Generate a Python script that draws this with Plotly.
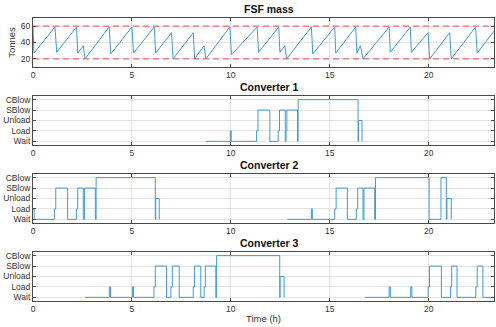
import plotly.graph_objects as go
from plotly.subplots import make_subplots

# ---------------- data ----------------
fsf_t = [0, 0.05, 1.11, 1.2, 2.2, 2.26, 2.54, 2.63, 3.85, 3.93, 5.0, 5.08, 6.13, 6.2,
         7.0, 7.08, 8.1, 8.17, 8.64, 8.74, 9.95, 10.03, 11.33, 11.4, 12.42, 12.48,
         12.73, 12.82, 14.07, 14.14, 15.25, 15.3, 16.31, 16.37, 16.55, 16.68, 18.0,
         18.06, 19.07, 19.12, 19.97, 20.05, 21.06, 21.14, 22.37, 22.45, 23.3]
fsf_m = [59, 27, 59, 28, 59, 27, 36, 20, 59, 26, 59, 27, 59, 27,
         52, 20, 52, 20, 36, 20, 59, 25, 59, 28, 59, 28,
         36, 20, 59, 26, 59, 27, 59, 27, 36, 20, 59,
         28, 59, 28, 52, 20, 52, 20, 59, 27, 54]
fsf_limits = [20, 60]

states = ["Wait", "Load", "Unload", "SBlow", "CBlow"]

conv1_t = [8.74, 9.97, 10.02, 11.3, 11.37, 11.97, 12.39, 12.46, 12.75, 12.79, 12.83,
           13.37, 13.4, 16.43, 16.45, 16.63]
conv1_s = ["Wait", "Load", "Wait", "Load", "SBlow", "Wait", "Load", "SBlow", "Wait", "Load", "SBlow",
           "Wait", "CBlow", "Wait", "Unload", "Wait"]

conv2_t = [0, 0.06, 1.08, 1.15, 1.75, 2.19, 2.26, 2.54, 2.6, 3.15, 3.19, 6.18, 6.2, 6.38, None,
           12.85, 14.07, 14.12, 15.25, 15.32, 15.89, 16.34, 16.41, 16.68, 16.73, 17.27, 17.31,
           20.02, 20.62, 20.89, 20.92, 21.14]
conv2_s = ["Load", "Wait", "Load", "SBlow", "Wait", "Load", "SBlow", "Wait", "SBlow", "Wait", "CBlow",
           "Wait", "Unload", "Wait", None,
           "Wait", "Load", "Wait", "Load", "SBlow", "Wait", "Load", "SBlow", "Wait", "SBlow", "Wait", "CBlow",
           "Wait", "CBlow", "Wait", "Unload", "Wait"]

conv3_t = [2.63, 3.86, 3.92, 5.02, 5.08, 6.11, 6.18, 6.75, 6.97, 7.04, 7.39, 8.1, 8.16, 8.48,
           8.65, 8.71, 9.24, 9.28, 12.47, 12.49, 12.69, None,
           16.77, 18.0, 18.06, 19.09, 19.15, 19.97, 20.04, 20.64, 21.1, 21.16, 21.43, 22.38,
           22.45, 22.74, 23.3]
conv3_s = ["Wait", "Load", "Wait", "Load", "Wait", "Load", "SBlow", "Wait", "Load", "SBlow", "Wait",
           "Load", "SBlow", "Wait", "Load", "SBlow", "Wait", "CBlow", "Wait", "Unload", "Wait", None,
           "Wait", "Load", "Wait", "Load", "Wait", "Load", "SBlow", "Wait", "Load", "SBlow", "Wait",
           "Load", "SBlow", "Wait", "Wait"]

titles = ["FSF mass", "Converter 1", "Converter 2", "Converter 3"]
x_ticks = [0, 5, 10, 15, 20]
x_max = 23.3

# ---------------- figure ----------------
W, H = 496, 327
ml, mr, mt, mb = 33, 2, 18, 26
fig = make_subplots(rows=4, cols=1)

line_col = "#4199d6"
fig.add_trace(go.Scatter(x=fsf_t, y=fsf_m, mode="lines",
                         line=dict(color=line_col, width=1)), row=1, col=1)
for lim in fsf_limits:
    fig.add_trace(go.Scatter(x=[0, x_max], y=[lim, lim], mode="lines",
                             line=dict(color="#f26b6b", width=1.3, dash="6px,4px")),
                  row=1, col=1)
for i, (tt, ss) in enumerate([(conv1_t, conv1_s), (conv2_t, conv2_s), (conv3_t, conv3_s)]):
    fig.add_trace(go.Scatter(x=tt, y=ss, mode="lines", line_shape="hv",
                             line=dict(color=line_col, width=1), connectgaps=False),
                  row=i + 2, col=1)

ph = H - mt - mb
panels_px = [(18, 67), (96, 145), (174, 223), (252, 301)]
font = "Liberation Sans, Arial, sans-serif"
axcol = "#4a4a4a"
txtcol = "#333333"

common = dict(showline=True, linecolor=axcol, linewidth=1, mirror="ticks",
              ticks="inside", ticklen=3, tickcolor=axcol, showgrid=True,
              gridcolor="#e3e3e3", gridwidth=1, zeroline=False, automargin=False,
              tickfont=dict(family=font, size=8.5, color=txtcol))

for i, (a, b) in enumerate(panels_px):
    dom = [(H - mb - b) / ph, (H - mb - a) / ph]
    xa = dict(common, range=[0, x_max], tickvals=x_ticks, domain=[0, 1])
    ya = dict(common, domain=dom)
    if i == 0:
        ya.update(range=[10, 70], tickvals=[20, 40, 60],
                  title=dict(text="Tonnes", font=dict(family=font, size=9.5, color=txtcol), standoff=3))
    else:
        ya.update(type="category", categoryorder="array", categoryarray=states,
                  range=[-0.35, 4.35])
    if i == 3:
        xa.update(title=dict(text="Time (h)", font=dict(family=font, size=9.5, color=txtcol), standoff=2))
    sfx = "" if i == 0 else str(i + 1)
    fig.update_layout(**{"xaxis" + sfx: xa, "yaxis" + sfx: ya})
    fig.add_annotation(text="<b>" + titles[i] + "</b>", xref="paper", yref="paper",
                       x=0.513, y=dom[1], xanchor="center", yanchor="bottom", yshift=1,
                       showarrow=False, font=dict(family=font, size=10.5, color="#111111"))

fig.update_layout(width=W, height=H, margin=dict(l=ml, r=mr, t=mt, b=mb),
                  paper_bgcolor="white", plot_bgcolor="white", showlegend=False)

fig.write_html("out.html", config={"displayModeBar": False},
               post_script="document.body.style.margin='0';")
